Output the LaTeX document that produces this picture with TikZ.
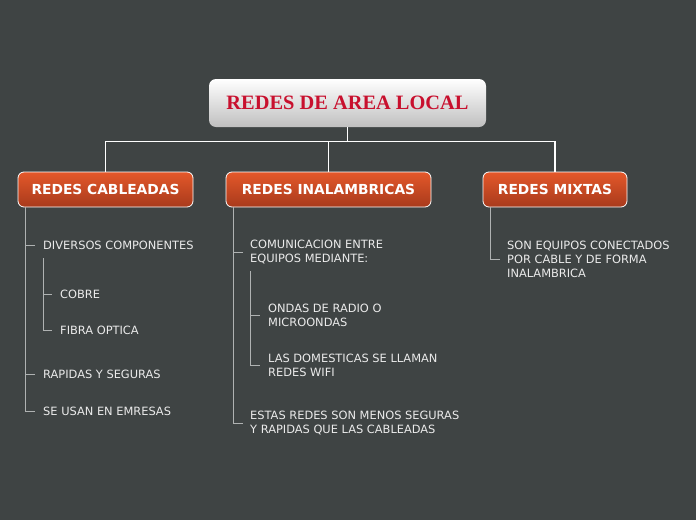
\documentclass[tikz,border=0pt]{standalone}
\usepackage{fontspec}
\setmainfont{DejaVu Sans}
\newfontfamily\titlefont{Liberation Serif}
\usetikzlibrary{positioning,calc}
\definecolor{fondo}{RGB}{63,68,68}
\definecolor{rojo}{RGB}{200,16,46}
\definecolor{narA}{RGB}{228,88,42}
\definecolor{narB}{RGB}{168,58,28}
\definecolor{linea}{RGB}{175,178,178}
\tikzset{
  tema/.style={rounded corners=6pt, draw=white, line width=0.8pt, top color=narA, bottom color=narB,
    minimum height=35pt, text=white, font=\fontsize{13.8}{15}\selectfont\bfseries},
  item/.style={anchor=west, inner sep=0pt, align=left, text=white!92!black,
    font=\fontsize{11.4}{14}\selectfont},
  rama/.style={draw=linea, line width=0.8pt},
}
\begin{document}
\begin{tikzpicture}[x=1pt,y=-1pt]
	\fill[fondo] (0,0) rectangle (696,520);
	\useasboundingbox (0,0) rectangle (696,520);

	\node[rounded corners=7pt, top color=white, bottom color=black!25, minimum width=277pt, minimum height=48pt,
	  text=rojo, font=\titlefont\fontsize{20.4}{22}\selectfont\bfseries] (raiz) at (347.5,103) {REDES DE AREA LOCAL};

	\node[tema, minimum width=175pt] (cab) at (105.5,189.5) {REDES CABLEADAS};
	\node[tema, minimum width=205pt] (ina) at (328.5,189.5) {REDES INALAMBRICAS};
	\node[tema, minimum width=144pt] (mix) at (555,189.5) {REDES MIXTAS};

	\draw[white, line width=1.2pt] (raiz.south) -- ++(0,14) coordinate (j)
	  (cab.north) |- (j) -| (mix.north) (ina.north) -- (ina.north |- j);

	% cableadas
	\node[item] (c1) at (43,245) {DIVERSOS COMPONENTES};
	\node[item] (c11) at (60,294) {COBRE};
	\node[item] (c12) at (60,330) {FIBRA OPTICA};
	\node[item] (c2) at (43,374) {RAPIDAS Y SEGURAS};
	\node[item] (c3) at (43,411) {SE USAN EN EMRESAS};
	\coordinate (lc) at (25,0);
	\coordinate (lc1) at (43,0);
	\draw[rama] (lc |- cab.south) -- (lc |- c3) -- ++(10,0);
	\foreach \n in {c1,c2} \draw[rama] (lc |- \n) -- ++(10,0);
	\draw[rama] (43,258) -- (lc1 |- c12) -- ++(9,0);
	\draw[rama] (lc1 |- c11) -- ++(9,0);

	% inalambricas
	\node[item] (i1) at (250,252) {COMUNICACION ENTRE\\EQUIPOS MEDIANTE:};
	\node[item] (i11) at (268,315) {ONDAS DE RADIO O\\MICROONDAS};
	\node[item] (i12) at (268,365) {LAS DOMESTICAS SE LLAMAN\\REDES WIFI};
	\node[item] (i2) at (250,423) {ESTAS REDES SON MENOS SEGURAS\\Y RAPIDAS QUE LAS CABLEADAS};
	\coordinate (li) at (233,0);
	\coordinate (li1) at (250,0);
	\draw[rama] (li |- ina.south) -- (li |- i2) -- ++(10,0);
	\draw[rama] (li |- i1) -- ++(10,0);
	\draw[rama] (250,271) -- (li1 |- i12) -- ++(10,0);
	\draw[rama] (li1 |- i11) -- ++(10,0);

	% mixtas
	\node[item] (m1) at (507,259) {SON EQUIPOS CONECTADOS\\POR CABLE Y DE FORMA\\INALAMBRICA};
	\coordinate (lm) at (490,0);
	\draw[rama] (lm |- mix.south) -- (lm |- m1) -- ++(10,0);
\end{tikzpicture}
\end{document}
